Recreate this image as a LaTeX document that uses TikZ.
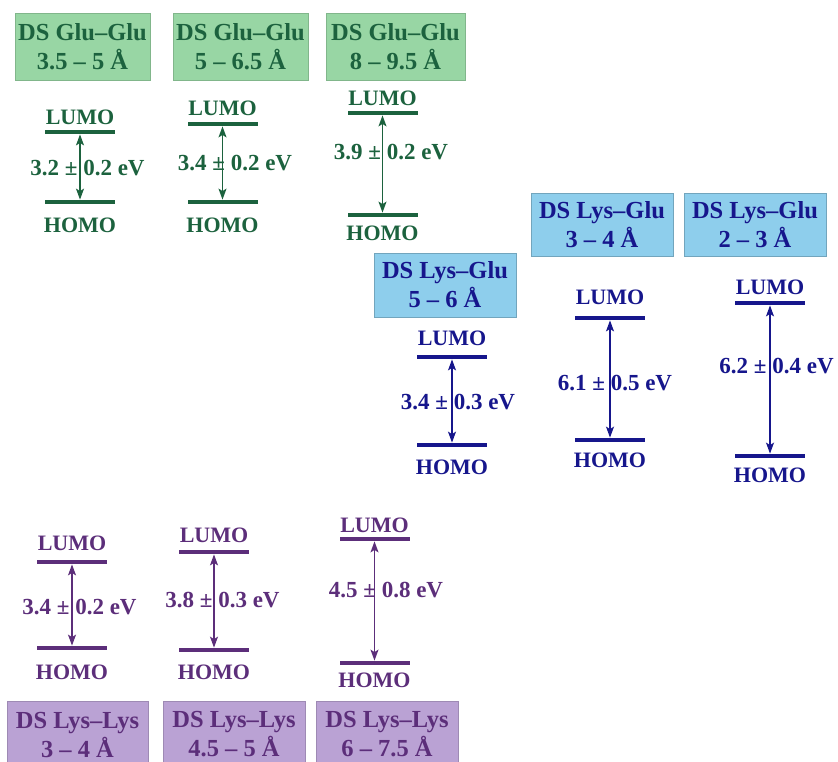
\documentclass[tikz,border=0pt]{standalone}
\usepackage{fontspec}
\setmainfont{Liberation Serif}
\usetikzlibrary{arrows.meta}
\definecolor{gfill}{RGB}{152,214,164}
\definecolor{gtext}{RGB}{28,98,62}
\definecolor{bfill}{RGB}{142,206,236}
\definecolor{btext}{RGB}{22,22,140}
\definecolor{pfill}{RGB}{186,162,212}
\definecolor{ptext}{RGB}{92,46,122}
\colorlet{cur}{gtext}
\tikzset{
  titlebox/.style={rectangle, inner sep=0pt, align=center,
    font=\fontsize{24.5}{29}\selectfont\bfseries, line width=0.8pt},
  gbox/.style={titlebox, fill=gfill, draw=gfill!85!black, text=gtext},
  bbox/.style={titlebox, fill=bfill, draw=bfill!80!black, text=btext},
  pbox/.style={titlebox, fill=pfill, draw=pfill!85!black, text=ptext},
  lvlbar/.style={rectangle, inner sep=0pt, minimum width=70pt, minimum height=4.4pt, fill=cur},
  lvltxt/.style={inner sep=0pt, text=cur, font=\fontsize{22}{26}\selectfont\bfseries},
  gaptxt/.style={inner sep=0pt, text=cur, font=\fontsize{23}{26}\selectfont\bfseries},
  gaptip/.tip={Stealth[length=11pt,width=8pt,inset=2.5pt]},
  gaparrow/.style={draw=cur, line width=1.3pt, gaptip-gaptip}
}
% #1 name, #2 x, #3 LUMO bar y, #4 LUMO text y, #5 HOMO bar y, #6 HOMO text y, #7 gap x, #8 gap y, #9 gap text
\newcommand\energylevels[9]{%
  \node[lvlbar] (#1L) at (#2,#3) {};
  \node[lvltxt] (#1Lt) at (#2,#4) {LUMO};
  \node[lvlbar] (#1H) at (#2,#5) {};
  \node[lvltxt] (#1Ht) at (#2,#6) {HOMO};
  \draw[gaparrow] (#1L.south) -- (#1H.north);
  \node[gaptxt] (#1g) at (#7,#8) {#9};
}
\begin{document}
\begin{tikzpicture}[x=1pt,y=-1pt]
\useasboundingbox (0,0) rectangle (838,761);
\fill[white] (0,0) rectangle (838,761);
% green boxes
\node[gbox, minimum width=135pt, minimum height=67pt] (g1box) at (82.5,46.5) {DS Glu–Glu\\3.5 – 5 Å};
\node[gbox, minimum width=135pt, minimum height=67pt] (g2box) at (240.5,46.5) {DS Glu–Glu\\5 – 6.5 Å};
\node[gbox, minimum width=139pt, minimum height=67pt] (g3box) at (395.5,46.5) {DS Glu–Glu\\8 – 9.5 Å};
% blue boxes
\node[bbox, minimum width=142pt, minimum height=64pt] (b1box) at (445,285) {DS Lys–Glu\\5 – 6 Å};
\node[bbox, minimum width=142pt, minimum height=63pt] (b2box) at (602,224.5) {DS Lys–Glu\\3 – 4 Å};
\node[bbox, minimum width=142pt, minimum height=63pt] (b3box) at (755,224.5) {DS Lys–Glu\\2 – 3 Å};
% purple boxes
\node[pbox, minimum width=141pt, minimum height=67pt] (p1box) at (77.5,734.5) {DS Lys–Lys\\3 – 4 Å};
\node[pbox, minimum width=142pt, minimum height=67pt] (p2box) at (234,734.5) {DS Lys–Lys\\4.5 – 5 Å};
\node[pbox, minimum width=142pt, minimum height=67pt] (p3box) at (387,734.5) {DS Lys–Lys\\6 – 7.5 Å};
% green levels
\colorlet{cur}{gtext}
\energylevels{g1}{80}{132}{117}{202}{225}{87.5}{168}{3.2 ± 0.2 eV}
\energylevels{g2}{222.5}{124}{108}{202}{225}{235}{163}{3.4 ± 0.2 eV}
\energylevels{g3}{382.5}{113}{98}{215}{233}{391}{152}{3.9 ± 0.2 eV}
% blue levels
\colorlet{cur}{btext}
\energylevels{b1}{452}{357}{338}{445}{467}{458}{402}{3.4 ± 0.3 eV}
\energylevels{b2}{610}{318}{297}{440}{460}{615}{383}{6.1 ± 0.5 eV}
\energylevels{b3}{770}{303}{287}{456}{475}{776.5}{366}{6.2 ± 0.4 eV}
% purple levels
\colorlet{cur}{ptext}
\energylevels{p1}{72}{562}{543}{648}{672}{79.5}{607}{3.4 ± 0.2 eV}
\energylevels{p2}{214}{552}{535}{650}{672}{222.5}{600}{3.8 ± 0.3 eV}
\energylevels{p3}{374.5}{539}{525}{663}{680}{386}{590}{4.5 ± 0.8 eV}
\end{tikzpicture}
\end{document}
